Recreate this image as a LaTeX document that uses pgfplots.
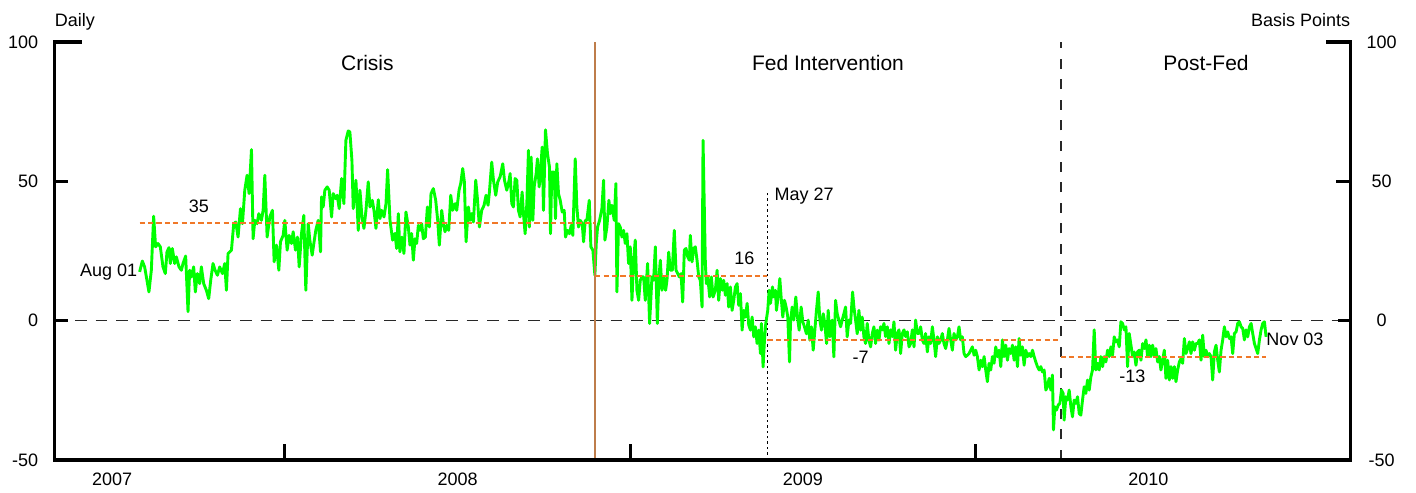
\documentclass[border=0pt]{standalone}
\usepackage{fontspec}
\setmainfont{Liberation Sans}
\usepackage{pgfplots}
\pgfplotsset{compat=1.18}
\usepackage{pgfplotstable}
\definecolor{lgreen}{RGB}{0,255,0}
\definecolor{morange}{RGB}{240,120,40}
\definecolor{fedbrown}{RGB}{190,125,75}
\definecolor{dgray}{RGB}{40,40,40}

% t = date in decimal years, v = basis points
\pgfplotstableread{
t v
2007.5797 17.5
2007.5874 21.4
2007.5942 19.3
2007.6009 14.5
2007.6067 10.3
2007.6135 18.1
2007.6203 37.5
2007.6261 26.5
2007.6328 27.7
2007.6396 26.5
2007.6473 19.3
2007.6541 16.9
2007.6589 24.7
2007.6647 26.2
2007.6686 20.5
2007.6744 25.9
2007.6811 20.5
2007.6860 22.9
2007.6937 19.3
2007.7005 18.1
2007.7053 20.5
2007.7130 23.2
2007.7198 3.2
2007.7246 18.1
2007.7294 15.7
2007.7362 19.3
2007.7410 10.3
2007.7468 16.9
2007.7536 13.3
2007.7584 19.3
2007.7652 13.3
2007.7729 10.9
2007.7797 7.9
2007.7855 14.5
2007.7922 20.5
2007.7980 18.1
2007.8048 16.3
2007.8116 19.3
2007.8193 16.9
2007.8261 20.5
2007.8309 10.9
2007.8357 24.1
2007.8454 25.3
2007.8521 34.8
2007.8579 35.4
2007.8647 30.0
2007.8715 40.2
2007.8773 34.8
2007.8840 46.8
2007.8908 52.2
2007.8966 45.6
2007.9034 61.4
2007.9082 29.4
2007.9130 36.0
2007.9198 34.8
2007.9246 38.4
2007.9323 36.0
2007.9372 39.6
2007.9420 52.2
2007.9488 30.0
2007.9565 37.2
2007.9642 39.6
2007.9691 21.1
2007.9758 27.1
2007.9826 18.1
2007.9874 28.3
2007.9951 30.6
2008.0000 36.0
2008.0067 25.3
2008.0125 30.6
2008.0193 27.7
2008.0241 31.9
2008.0309 25.3
2008.0367 30.0
2008.0415 19.3
2008.0483 31.3
2008.0550 37.8
2008.0608 10.9
2008.0676 34.8
2008.0724 28.9
2008.0792 23.5
2008.0840 27.7
2008.0898 32.5
2008.0966 36.0
2008.1034 24.7
2008.1063 44.4
2008.1111 40.8
2008.1159 46.8
2008.1227 48.0
2008.1285 46.8
2008.1353 37.2
2008.1401 45.6
2008.1469 43.8
2008.1517 45.0
2008.1575 40.2
2008.1643 51.0
2008.1710 42.0
2008.1768 64.7
2008.1836 68.1
2008.1884 67.7
2008.1942 57.5
2008.1981 40.2
2008.2058 50.4
2008.2126 32.4
2008.2174 46.8
2008.2232 37.2
2008.2290 33.1
2008.2348 39.6
2008.2415 49.8
2008.2464 40.8
2008.2531 43.2
2008.2580 39.6
2008.2638 33.1
2008.2705 43.4
2008.2754 36.6
2008.2802 39.6
2008.2870 37.2
2008.2928 42.0
2008.2976 54.2
2008.3044 36.0
2008.3121 28.9
2008.3188 31.3
2008.3237 25.9
2008.3285 38.4
2008.3333 24.7
2008.3391 30.0
2008.3449 24.1
2008.3507 39.0
2008.3575 33.6
2008.3623 27.1
2008.3671 31.3
2008.3720 21.7
2008.3768 29.4
2008.3816 27.7
2008.3865 34.2
2008.3913 32.4
2008.3961 34.8
2008.4010 29.4
2008.4068 30.0
2008.4126 40.8
2008.4184 33.6
2008.4232 45.6
2008.4300 47.4
2008.4367 43.2
2008.4425 36.0
2008.4473 27.1
2008.4541 39.6
2008.4589 34.8
2008.4638 31.9
2008.4686 34.2
2008.4744 32.4
2008.4802 45.0
2008.4860 39.6
2008.4928 42.0
2008.4976 39.6
2008.5043 46.8
2008.5092 49.2
2008.5150 54.6
2008.5198 49.8
2008.5246 28.3
2008.5314 40.8
2008.5362 36.0
2008.5411 38.4
2008.5459 35.4
2008.5527 50.4
2008.5575 43.8
2008.5633 33.6
2008.5700 39.6
2008.5768 41.4
2008.5826 45.0
2008.5884 41.4
2008.5923 46.2
2008.5990 56.9
2008.6039 50.4
2008.6106 45.0
2008.6164 49.8
2008.6232 51.6
2008.6309 56.3
2008.6358 50.4
2008.6425 46.8
2008.6493 50.4
2008.6522 52.8
2008.6570 42.0
2008.6618 40.8
2008.6667 51.0
2008.6715 50.4
2008.6763 39.6
2008.6812 37.2
2008.6870 46.2
2008.6908 38.4
2008.6957 31.2
2008.7005 42.0
2008.7053 61.1
2008.7082 33.6
2008.7130 58.7
2008.7179 36.0
2008.7217 48.0
2008.7275 52.8
2008.7314 58.1
2008.7362 48.0
2008.7411 55.1
2008.7449 62.3
2008.7488 39.6
2008.7546 68.5
2008.7604 59.9
2008.7662 55.1
2008.7691 31.2
2008.7729 53.3
2008.7797 53.3
2008.7836 36.6
2008.7874 56.3
2008.7923 45.6
2008.7971 43.2
2008.8029 39.0
2008.8087 39.6
2008.8126 30.0
2008.8184 32.4
2008.8242 31.2
2008.8290 34.2
2008.8338 30.6
2008.8406 58.1
2008.8454 40.8
2008.8502 33.6
2008.8551 36.0
2008.8609 34.8
2008.8647 28.3
2008.8696 36.0
2008.8744 36.0
2008.8812 43.2
2008.8860 26.5
2008.8918 25.3
2008.8976 16.3
2008.9015 27.7
2008.9053 33.6
2008.9111 36.0
2008.9179 40.2
2008.9227 50.4
2008.9266 28.9
2008.9324 33.6
2008.9382 43.2
2008.9420 38.4
2008.9469 41.4
2008.9536 36.0
2008.9585 49.2
2008.9614 10.3
2008.9662 34.8
2008.9710 33.6
2008.9758 30.0
2008.9807 32.4
2008.9855 27.7
2008.9903 31.2
2008.9952 20.5
2009.0000 26.5
2009.0048 7.3
2009.0097 21.7
2009.0145 28.9
2009.0193 10.9
2009.0242 7.3
2009.0290 14.5
2009.0338 15.7
2009.0387 15.7
2009.0435 7.3
2009.0502 20.5
2009.0560 -1.0
2009.0628 15.7
2009.0676 14.5
2009.0725 26.5
2009.0783 -1.0
2009.0831 15.7
2009.0870 21.7
2009.0918 10.9
2009.0966 15.7
2009.1024 10.9
2009.1063 14.5
2009.1111 24.6
2009.1159 18.1
2009.1217 18.1
2009.1275 32.4
2009.1324 18.1
2009.1372 16.9
2009.1420 15.7
2009.1469 16.9
2009.1517 6.7
2009.1565 25.3
2009.1614 25.9
2009.1662 22.9
2009.1710 21.7
2009.1739 30.6
2009.1787 21.1
2009.1836 25.9
2009.1884 26.5
2009.1932 21.7
2009.1981 15.7
2009.2029 14.5
2009.2077 4.9
2009.2106 64.7
2009.2174 20.5
2009.2203 13.3
2009.2242 15.7
2009.2300 8.5
2009.2348 15.7
2009.2396 8.5
2009.2464 10.9
2009.2512 18.1
2009.2560 7.3
2009.2609 15.1
2009.2667 10.9
2009.2705 14.5
2009.2754 9.1
2009.2802 13.3
2009.2850 4.9
2009.2899 12.1
2009.2947 3.7
2009.2995 7.3
2009.3043 12.1
2009.3092 13.3
2009.3140 5.5
2009.3188 9.7
2009.3237 -3.4
2009.3285 3.7
2009.3333 1.3
2009.3382 6.2
2009.3430 -1.6
2009.3478 -3.4
2009.3527 1.3
2009.3575 -5.8
2009.3623 -2.2
2009.3671 -8.2
2009.3720 -3.4
2009.3768 -11.8
2009.3797 -1.0
2009.3845 -16.6
2009.3884 -7.0
2009.3923 -1.0
2009.3981 3.7
2009.4019 10.9
2009.4058 6.2
2009.4116 12.1
2009.4155 8.5
2009.4203 10.9
2009.4232 3.7
2009.4280 8.5
2009.4329 15.1
2009.4367 8.5
2009.4415 1.3
2009.4464 7.3
2009.4512 4.9
2009.4560 1.3
2009.4609 -14.8
2009.4638 -1.0
2009.4686 4.9
2009.4734 0.2
2009.4792 8.5
2009.4841 1.3
2009.4889 -3.4
2009.4947 4.9
2009.4995 -0.4
2009.5043 -2.2
2009.5101 -4.7
2009.5150 0.2
2009.5198 -7.0
2009.5246 -2.2
2009.5295 -10.6
2009.5343 -3.4
2009.5391 3.7
2009.5440 10.3
2009.5488 0.2
2009.5536 -3.4
2009.5585 2.5
2009.5633 -1.0
2009.5681 -8.2
2009.5729 3.7
2009.5778 -5.8
2009.5845 0.2
2009.5894 -13.0
2009.5942 7.3
2009.5990 2.5
2009.6039 0.2
2009.6087 -2.2
2009.6135 0.2
2009.6184 2.5
2009.6232 4.9
2009.6280 -5.8
2009.6329 0.2
2009.6377 -1.0
2009.6435 10.3
2009.6473 4.9
2009.6522 0.2
2009.6570 -4.7
2009.6618 3.7
2009.6667 -3.4
2009.6715 1.3
2009.6763 -5.8
2009.6812 -8.2
2009.6860 -1.0
2009.6908 -7.0
2009.6957 -9.4
2009.7005 -4.7
2009.7053 -2.2
2009.7101 -8.2
2009.7150 -3.4
2009.7198 -7.0
2009.7246 -2.2
2009.7295 -3.3
2009.7343 -1.0
2009.7391 -5.7
2009.7440 -2.2
2009.7488 -8.2
2009.7536 -3.3
2009.7585 -5.7
2009.7633 -0.4
2009.7681 -10.6
2009.7729 -4.6
2009.7778 -3.3
2009.7826 -11.8
2009.7874 -4.6
2009.7923 -3.3
2009.7971 -5.7
2009.8019 -4.0
2009.8068 -9.4
2009.8116 -8.2
2009.8164 -3.3
2009.8213 -9.4
2009.8261 0.2
2009.8309 -4.6
2009.8357 -4.6
2009.8406 -2.2
2009.8454 -6.9
2009.8502 -8.2
2009.8551 -4.6
2009.8599 -11.2
2009.8647 -5.8
2009.8696 -8.2
2009.8744 -2.2
2009.8792 -6.9
2009.8841 -12.9
2009.8889 -5.8
2009.8937 -8.2
2009.8986 -6.9
2009.9034 -4.6
2009.9082 -8.2
2009.9130 -10.0
2009.9179 -6.9
2009.9227 -2.8
2009.9275 -6.9
2009.9324 -10.6
2009.9372 -4.6
2009.9420 -6.9
2009.9469 -5.8
2009.9517 -2.2
2009.9565 -6.9
2009.9614 -5.8
2009.9662 -11.8
2009.9710 -12.9
2009.9758 -12.4
2009.9807 -11.8
2009.9855 -10.6
2009.9903 -9.4
2009.9952 -12.4
2010.0000 -10.6
2010.0048 -12.9
2010.0097 -17.7
2010.0145 -14.2
2010.0193 -16.5
2010.0242 -12.9
2010.0290 -17.7
2010.0338 -21.9
2010.0386 -15.3
2010.0435 -17.7
2010.0483 -12.9
2010.0531 -15.3
2010.0580 -9.4
2010.0628 -12.9
2010.0676 -10.6
2010.0725 -16.5
2010.0773 -6.9
2010.0821 -12.9
2010.0870 -8.8
2010.0918 -14.2
2010.0966 -10.0
2010.1015 -11.8
2010.1063 -8.8
2010.1111 -14.2
2010.1159 -9.4
2010.1208 -16.5
2010.1256 -6.4
2010.1304 -12.4
2010.1353 -9.4
2010.1401 -16.0
2010.1449 -10.6
2010.1498 -12.9
2010.1546 -11.8
2010.1594 -12.9
2010.1643 -10.6
2010.1691 -12.9
2010.1739 -14.8
2010.1787 -16.5
2010.1836 -17.7
2010.1884 -16.5
2010.1932 -18.4
2010.1981 -17.7
2010.2029 -24.9
2010.2077 -23.7
2010.2126 -20.7
2010.2174 -24.9
2010.2222 -19.5
2010.2251 -39.2
2010.2290 -30.9
2010.2338 -32.1
2010.2386 -30.3
2010.2435 -29.7
2010.2483 -24.9
2010.2531 -26.1
2010.2560 -35.7
2010.2609 -27.3
2010.2657 -28.5
2010.2705 -24.9
2010.2754 -30.9
2010.2802 -34.5
2010.2850 -28.5
2010.2899 -29.7
2010.2947 -27.3
2010.2995 -33.3
2010.3043 -33.9
2010.3092 -28.5
2010.3140 -23.7
2010.3188 -26.1
2010.3237 -21.3
2010.3285 -24.9
2010.3333 -20.2
2010.3382 -17.7
2010.3430 -3.3
2010.3478 -17.7
2010.3527 -15.3
2010.3575 -17.7
2010.3623 -12.9
2010.3671 -16.5
2010.3720 -12.9
2010.3768 -14.8
2010.3816 -10.6
2010.3865 -12.9
2010.3913 -9.4
2010.3961 -12.4
2010.4010 -5.8
2010.4058 -7.6
2010.4106 -6.9
2010.4155 -9.4
2010.4203 -0.4
2010.4251 -1.0
2010.4300 -3.3
2010.4348 -2.2
2010.4396 -16.5
2010.4444 -4.6
2010.4493 -8.8
2010.4541 -12.9
2010.4589 -11.2
2010.4638 -16.0
2010.4686 -11.2
2010.4734 -10.6
2010.4783 -14.2
2010.4831 -8.2
2010.4879 -10.0
2010.4928 -6.9
2010.4976 -12.9
2010.5024 -8.8
2010.5072 -12.9
2010.5121 -8.8
2010.5169 -12.4
2010.5217 -10.0
2010.5266 -14.8
2010.5314 -12.9
2010.5362 -17.7
2010.5411 -14.2
2010.5459 -10.6
2010.5507 -20.7
2010.5556 -14.2
2010.5604 -21.3
2010.5652 -16.5
2010.5700 -20.7
2010.5749 -16.5
2010.5797 -21.9
2010.5845 -17.7
2010.5894 -14.8
2010.5942 -13.6
2010.5990 -15.3
2010.6039 -6.4
2010.6087 -11.8
2010.6135 -10.0
2010.6184 -7.6
2010.6232 -11.8
2010.6280 -7.6
2010.6329 -10.6
2010.6377 -8.2
2010.6425 -8.2
2010.6473 -6.9
2010.6522 -14.2
2010.6570 -5.2
2010.6618 -12.9
2010.6667 -10.6
2010.6715 -12.9
2010.6763 -11.8
2010.6812 -12.9
2010.6860 -21.3
2010.6908 -11.2
2010.6957 -8.8
2010.7005 -14.2
2010.7053 -18.4
2010.7101 -10.6
2010.7150 -6.9
2010.7198 -2.2
2010.7246 -5.8
2010.7295 -4.0
2010.7343 -6.4
2010.7391 -5.8
2010.7440 -11.8
2010.7488 -4.6
2010.7536 -4.0
2010.7585 -1.0
2010.7633 -0.4
2010.7681 -2.2
2010.7729 -2.8
2010.7778 -6.9
2010.7826 -3.3
2010.7874 -5.8
2010.7923 -2.2
2010.7971 -1.0
2010.8019 -4.6
2010.8068 -8.2
2010.8116 -10.0
2010.8164 -11.8
2010.8213 -6.9
2010.8261 -3.3
2010.8309 -1.0
2010.8357 -0.4
2010.8406 -5.8
}\spread

% x axis runs in years since 2007.0
\begin{document}
\begin{tikzpicture}[font=\fontsize{9}{10.5}\selectfont]
\begin{axis}[name=main,
  scale only axis, width=648pt, height=209pt,
  xmin=0.3333, xmax=4.085, ymin=-50, ymax=100,
  axis line style={draw=none},
  xtick={0.5,1.5,2.5,3.5},
  xticklabels={2007,2008,2009,2010},
  xtick style={draw=none},
  xticklabel style={anchor=north, inner sep=0pt, yshift=-6.5pt},
  ytick={-50,0,50,100},
  yticklabels={-50,0,50,100},
  ytick style={draw=none},
  yticklabel style={anchor=east, inner sep=0pt, xshift=-8pt},
  tick label style={font=\fontsize{9}{10.5}\selectfont},
  clip=false,
]
% reference lines
\addplot[dgray, line width=0.75pt, dash pattern=on 5.8pt off 4.5pt, mark=none] coordinates {(0.3333,0) (4.085,0)};
\addplot[dgray, line width=0.75pt, dash pattern=on 5pt off 5.3pt, mark=none] coordinates {(3.2464,-50) (3.2464,100)};
\addplot[black, line width=0.6pt, dash pattern=on 1.2pt off 1.5pt, mark=none] coordinates {(2.397,-50) (2.397,46.8)};

% data series
\addplot[lgreen, line width=1.45pt, line join=round, mark=none] table[x expr=\thisrow{t}-2007, y=v]{\spread};

\addplot[fedbrown, line width=0.8pt, mark=none] coordinates {(1.8986,-50) (1.8986,100)};

% period means
\addplot[morange, line width=1.2pt, dash pattern=on 2.6pt off 1.6pt, mark=none] coordinates {(0.5797,35) (1.8986,35)};
\addplot[morange, line width=1.2pt, dash pattern=on 2.6pt off 1.6pt, mark=none] coordinates {(1.8986,16) (2.397,16)};
\addplot[morange, line width=1.2pt, dash pattern=on 2.6pt off 1.6pt, mark=none] coordinates {(2.397,-7) (3.2464,-7)};
\addplot[morange, line width=1.2pt, dash pattern=on 2.6pt off 1.6pt, mark=none] coordinates {(3.2464,-13) (3.8406,-13)};

% axis frame and ticks
\draw[line width=1.6pt, line join=miter]
  ([xshift=13.5pt]rel axis cs:0,1) -- (rel axis cs:0,1) -- (rel axis cs:0,0)
  -- (rel axis cs:1,0) -- (rel axis cs:1,1) -- ([xshift=-12.5pt]rel axis cs:1,1);
\draw[line width=1.6pt] (rel axis cs:0,0.6667) -- ([xshift=6.5pt]rel axis cs:0,0.6667);
\draw[line width=1.6pt] (rel axis cs:0,0.3333) -- ([xshift=6.5pt]rel axis cs:0,0.3333);
\draw[line width=1.6pt] (rel axis cs:1,0.6667) -- ([xshift=-7.5pt]rel axis cs:1,0.6667);
\draw[line width=1.6pt] (rel axis cs:1,0.3333) -- ([xshift=-6.5pt]rel axis cs:1,0.3333);
\draw[line width=1.6pt] (axis cs:1,-50) -- ([yshift=8pt]axis cs:1,-50);
\draw[line width=1.6pt] (axis cs:2,-50) -- ([yshift=8pt]axis cs:2,-50);
\draw[line width=1.6pt] (axis cs:3,-50) -- ([yshift=8pt]axis cs:3,-50);

% right tick labels
\node[inner sep=0pt, xshift=15.5pt] at (rel axis cs:1,1) {100};
\node[inner sep=0pt, xshift=15.5pt] at (rel axis cs:1,0.6667) {50};
\node[inner sep=0pt, xshift=15.5pt] at (rel axis cs:1,0.3333) {0};
\node[inner sep=0pt, xshift=15.5pt] at (rel axis cs:1,0) {-50};

% titles
\node[anchor=base west, inner sep=0pt, yshift=7.5pt] at (rel axis cs:0,1) {Daily};
\node[anchor=base east, inner sep=0pt, yshift=7.5pt] at (rel axis cs:1,1) {Basis Points};

% period labels
\node[font=\fontsize{10.5}{12}\selectfont] at (axis cs:1.2391,92.6) {Crisis};
\node[font=\fontsize{10.5}{12}\selectfont] at (axis cs:2.5725,92.6) {Fed Intervention};
\node[font=\fontsize{10.5}{12}\selectfont] at (axis cs:3.6667,92.6) {Post-Fed};

% annotations
\node[inner sep=0pt] at (axis cs:0.751,41.0) {35};
\node[inner sep=0pt] at (axis cs:2.3304,22.2) {16};
\node[inner sep=0pt] at (axis cs:2.6667,-13.3) {-7};
\node[inner sep=0pt] at (axis cs:3.4536,-19.9) {-13};
\node[anchor=east, inner sep=1pt] at (axis cs:0.5797,17.4) {Aug 01};
\node[anchor=west, inner sep=0pt] at (axis cs:2.417,44.8) {May 27};
\node[anchor=west, inner sep=0pt] at (axis cs:3.8406,-6.8) {Nov 03};
\end{axis}
\pgfresetboundingbox
\path[use as bounding box] ([xshift=-27.25pt,yshift=-16pt]main.south west) rectangle ([xshift=680.75pt,yshift=230pt]main.south west);
\end{tikzpicture}
\end{document}
